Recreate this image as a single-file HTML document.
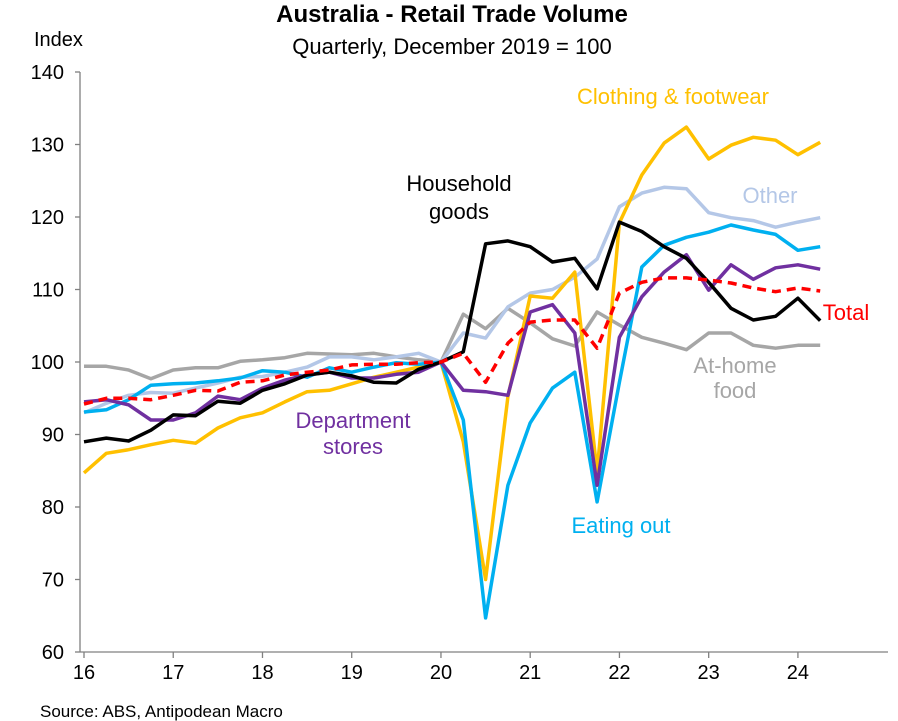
<!DOCTYPE html>
<html><head><meta charset="utf-8"><style>
body{margin:0;background:#fff;}
svg{display:block;font-family:"Liberation Sans",Arial,sans-serif;}
</style></head><body>
<svg id="chart" width="898" height="721">
<text x="452" y="22" text-anchor="middle" font-size="24" font-weight="bold">Australia - Retail Trade Volume</text>
<text x="452" y="54" text-anchor="middle" font-size="22">Quarterly, December 2019 = 100</text>
<text x="34" y="46" font-size="20">Index</text>
<text x="40" y="717" font-size="17">Source: ABS, Antipodean Macro</text>
<g id="axes"></g>
<g id="series"></g>
<g font-size="22">
<text x="673" y="104" text-anchor="middle" fill="#FFC000">Clothing &amp; footwear</text>
<text x="459" y="191" text-anchor="middle" fill="#000">Household</text>
<text x="459" y="219" text-anchor="middle" fill="#000">goods</text>
<text x="770" y="203" text-anchor="middle" fill="#B4C7E7">Other</text>
<text x="846" y="320" text-anchor="middle" fill="#FF0000">Total</text>
<text x="735" y="373" text-anchor="middle" fill="#A6A6A6">At-home</text>
<text x="735" y="398" text-anchor="middle" fill="#A6A6A6">food</text>
<text x="353" y="428" text-anchor="middle" fill="#7030A0">Department</text>
<text x="353" y="454" text-anchor="middle" fill="#7030A0">stores</text>
<text x="621" y="533" text-anchor="middle" fill="#00B0F0">Eating out</text>
</g>
</svg>
<script>
const yTicks=[60,70,80,90,100,110,120,130,140];
const xTickLabels=["16","17","18","19","20","21","22","23","24"];
const atHome=[99.4,99.4,98.9,97.7,98.9,99.2,99.2,100.1,100.3,100.6,101.2,101.1,101,101.2,100.7,100.3,100,106.6,104.6,107.4,105.4,103.2,102.2,106.9,105.1,103.4,102.6,101.7,104,104,102.3,101.9,102.3,102.3];
const other=[93,94.3,95.4,95.8,95.7,96.4,97.1,97.9,98,98.6,99.3,100.7,100.7,100.3,100.7,101.2,100,104,103.3,107.6,109.5,110,111.7,114.2,121.4,123.3,124.1,123.9,120.6,119.9,119.5,118.6,119.3,119.9];
const eatingOut=[93.1,93.4,94.8,96.8,97,97.1,97.4,97.8,98.8,98.6,97.9,99.2,98.6,99.3,99.9,99.7,100,92,64.7,83,91.6,96.4,98.6,80.7,97.2,113.1,116.1,117.2,117.9,118.9,118.2,117.6,115.4,115.9];
const clothing=[84.7,87.4,87.9,88.6,89.2,88.8,90.9,92.3,93,94.5,95.9,96.1,97,97.9,98.6,99.3,100,89,70,95.2,109.1,108.8,112.4,84.8,119.2,125.8,130.2,132.4,128,129.9,131,130.6,128.6,130.3];
const department=[94.5,94.8,94.1,92,92,93,95.3,94.8,96.4,97.5,98.2,98.6,97.8,97.8,98.3,98.6,100,96.1,95.9,95.4,106.9,107.9,104,83,103.4,109,112.4,114.8,109.9,113.4,111.4,113,113.4,112.8];
const household=[89,89.5,89.1,90.6,92.7,92.6,94.6,94.3,96.1,97,98.2,98.6,98.1,97.2,97.1,99,100,101.4,116.3,116.7,115.9,113.8,114.3,110.1,119.3,118,115.9,114.3,111,107.4,105.8,106.3,108.8,105.7];
const total=[94.2,95,95,94.8,95.4,96.1,96,97.2,97.4,98.2,98.6,98.9,99.6,99.7,99.7,99.9,100,101.2,97.2,102.6,105.5,105.8,105.8,101.9,109.5,111,111.6,111.6,111.3,110.9,110.2,109.7,110.2,109.8];

const NS='http://www.w3.org/2000/svg';
const X0=84,DX=22.31,Y0=652,PY=7.25,AX=80;
const xs=i=>X0+i*DX;
const ys=v=>Y0-(v-60)*PY;
function mk(tag,attrs,parent){const e=document.createElementNS(NS,tag);for(const k in attrs)e.setAttribute(k,attrs[k]);parent.appendChild(e);return e;}
const axes=document.getElementById('axes');
const yl=mk('line',{x1:AX,y1:ys(140),x2:AX,y2:Y0,stroke:'#808080','stroke-width':1.3},axes);


const xl=mk('line',{x1:AX,y1:Y0,x2:888,y2:Y0,stroke:'#808080','stroke-width':1.3},axes);


yTicks.forEach(v=>{
  const t=mk('line',{x1:AX-5,y1:ys(v),x2:AX,y2:ys(v),stroke:'#808080','stroke-width':1.3},axes);
  
  
  const l=mk('text',{x:64,y:ys(v)+7,'text-anchor':'end','font-size':20},axes);
  l.textContent=v;
  
  
});
xTickLabels.forEach((s,k)=>{
  const x=xs(k*4);
  const t=mk('line',{x1:x,y1:Y0,x2:x,y2:Y0+6,stroke:'#808080','stroke-width':1.3},axes);
  
  
  const l=mk('text',{x:x,y:Y0+27,'text-anchor':'middle','font-size':20},axes);
  l.textContent=s;
  
  
});
const ser=document.getElementById('series');
function draw(arr,color,name,dash){
  const p=mk('polyline',{points:arr.map((v,i)=>xs(i).toFixed(1)+','+ys(v).toFixed(1)).join(' '),fill:'none',stroke:color,'stroke-width':3.5,'stroke-linejoin':'round'},ser);
  if(dash)p.setAttribute('stroke-dasharray',dash);
  
  
}
draw(atHome,'#A6A6A6','line-at-home-food');
draw(other,'#B4C7E7','line-other');
draw(clothing,'#FFC000','line-clothing');
draw(eatingOut,'#00B0F0','line-eating-out');
draw(department,'#7030A0','line-department-stores');
draw(household,'#000000','line-household-goods');
draw(total,'#FF0000','line-total','9,6');
</script>
</body></html>
